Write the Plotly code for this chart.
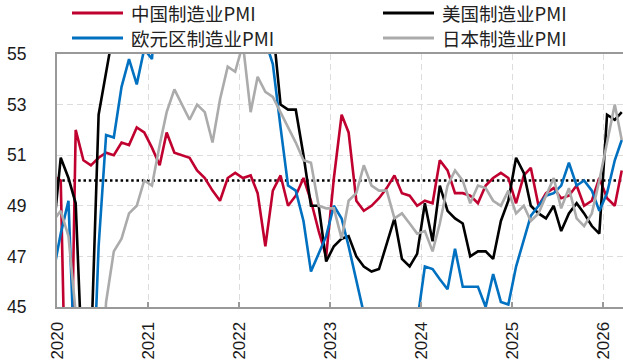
import pandas as pd
import plotly.graph_objects as go

# Monthly observations, Dec 2019 .. Mar 2026 (plotted mid-month)
months = pd.date_range("2019-12-01", "2026-03-01", freq="MS") + pd.Timedelta(days=15)

china = [50.2,
         50.0, 35.7, 52.0, 50.8, 50.6, 50.9, 51.1, 51.0, 51.5, 51.4, 52.1, 51.9,
         51.3, 50.6, 51.9, 51.1, 51.0, 50.9, 50.4, 50.1, 49.6, 49.2, 50.1, 50.3,
         50.1, 50.2, 49.5, 47.4, 49.6, 50.2, 49.0, 49.4, 50.1, 49.2, 48.0, 47.0,
         50.1, 52.6, 51.9, 49.2, 48.8, 49.0, 49.3, 49.7, 50.2, 49.5, 49.4, 49.0,
         49.2, 49.1, 50.8, 50.4, 49.5, 49.5, 49.4, 49.1, 49.8, 50.1, 50.3, 50.1,
         49.1, 50.2, 50.5, 49.0, 49.5, 49.7, 49.3, 49.4, 49.8, 49.0, 49.2, 50.1,
         49.3, 49.0, 50.4]

usa = [47.8,
       50.9, 50.1, 49.1, 41.5, 43.1, 52.6, 54.2, 56.0, 55.4, 59.3, 57.5, 60.7,
       58.7, 60.8, 64.7, 60.7, 61.2, 60.6, 59.5, 59.9, 61.1, 60.8, 61.1, 58.7,
       57.6, 58.6, 57.1, 55.4, 56.1, 53.0, 52.8, 52.8, 51.0, 49.0, 49.0, 46.8,
       47.4, 47.7, 47.8, 47.0, 46.6, 46.4, 46.5, 47.5, 48.5, 46.9, 46.6, 47.1,
       49.1, 47.6, 49.8, 48.8, 48.5, 48.3, 47.0, 47.2, 47.2, 46.9, 48.4, 49.2,
       50.9, 50.3, 49.0, 48.7, 48.5, 49.0, 48.0, 48.7, 49.1, 48.7, 48.2, 47.9,
       52.6, 52.4, 52.7]

euro = [46.3,
        47.9, 49.2, 44.5, 33.4, 39.4, 47.4, 51.8, 51.7, 53.7, 54.8, 53.8, 55.2,
        54.8, 57.9, 62.5, 62.9, 63.1, 63.4, 62.8, 61.4, 58.6, 58.3, 58.4, 58.0,
        58.7, 58.2, 56.5, 55.5, 54.6, 52.1, 49.8, 49.6, 48.4, 46.4, 47.1, 47.8,
        49.0, 48.5, 47.4, 46.1, 44.8, 43.4, 42.7, 43.5, 43.4, 43.1, 44.2, 44.4,
        46.6, 46.5, 46.1, 45.7, 47.3, 45.8, 45.8, 45.8, 45.0, 46.3, 45.2, 45.1,
        46.6, 47.6, 48.6, 49.0, 49.4, 49.5, 49.8, 50.7, 49.8, 50.0, 49.6, 48.8,
        49.5, 50.8, 51.6]

japan = [48.4,
         48.8, 47.8, 44.8, 41.9, 38.4, 40.1, 45.2, 47.2, 47.7, 48.7, 49.0, 50.0,
         49.8, 51.4, 52.7, 53.6, 53.0, 52.4, 53.0, 52.7, 51.5, 53.2, 54.5, 54.3,
         55.4, 52.7, 54.1, 53.5, 53.3, 52.7, 52.1, 51.5, 50.8, 50.7, 49.0, 48.9,
         48.9, 47.7, 49.2, 49.5, 50.6, 49.8, 49.6, 49.6, 48.5, 48.7, 48.3, 47.9,
         48.0, 47.2, 48.3, 49.8, 50.4, 50.0, 49.1, 49.8, 49.7, 49.2, 49.0, 49.6,
         48.7, 49.0, 48.4, 48.7, 49.4, 50.1, 48.9, 49.7, 48.5, 48.2, 48.7, 50.0,
         51.5, 53.0, 51.6]

series_names = ["中国制造业PMI", "美国制造业PMI", "欧元区制造业PMI", "日本制造业PMI"]
series_colors = ["#C0002F", "#000000", "#0070C0", "#ABABAB"]
series_values = [china, usa, euro, japan]

y_ticks = [45, 47, 49, 51, 53, 55]
threshold = 50

fig = go.Figure()
for name, col, vals in zip(series_names, series_colors, series_values):
    fig.add_trace(go.Scatter(x=months, y=vals, mode="lines", name=name,
                             line=dict(color=col, width=2.6), showlegend=False))

# 50 threshold dotted line
fig.add_shape(type="line", xref="paper", x0=0, x1=1, yref="y", y0=threshold, y1=threshold,
              line=dict(color="black", width=2.5, dash="2.5px,2.8px"), layer="below")

# manual legend (2 x 2)
W, H, L, T = 566, 253, 57, 54
def px_to_paper(xp, yp):
    return (xp - L) / W, (T + H - yp) / H

legend_pos = [(72, 13), (383, 13), (72, 38), (383, 38)]
for (xp, yp), name, col in zip(legend_pos, series_names, series_colors):
    x0, y0 = px_to_paper(xp, yp)
    x1, _ = px_to_paper(xp + 51, yp)
    fig.add_shape(type="line", xref="paper", yref="paper", x0=x0, x1=x1, y0=y0, y1=y0,
                  line=dict(color=col, width=3))
    xt, _ = px_to_paper(xp + 58, yp)
    fig.add_annotation(xref="paper", yref="paper", x=xt, y=y0, text=name, showarrow=False,
                       xanchor="left", yanchor="middle", borderpad=0,
                       font=dict(family="Noto Sans CJK SC", size=18.5, color="#222222"))

fig.update_layout(
    width=623, height=363,
    margin=dict(l=57, r=0, t=54, b=56, pad=0),
    paper_bgcolor="white", plot_bgcolor="white",
    showlegend=False,
    font=dict(family="Liberation Sans, Arial", size=17, color="#1a1a1a"),
)
fig.update_xaxes(
    type="date", range=["2020-01-01", "2026-03-21"],
    tick0="2020-01-01", dtick="M12", tickformat="%Y", tickangle=-90,
    showgrid=True, gridcolor="#DCDCDC", gridwidth=1, griddash="6px,4px",
    showline=True, linecolor="#999999", linewidth=2, mirror=True,
    ticks="inside", ticklen=5, tickcolor="#999999", tickwidth=1.5,
    ticklabelstandoff=6, automargin=False,
    tickfont=dict(family="Liberation Sans, Arial", size=17, color="#1a1a1a"),
)
fig.update_yaxes(
    range=[45, 55], tickvals=y_ticks,
    showgrid=True, gridcolor="#DCDCDC", gridwidth=1, griddash="6px,4px",
    showline=True, linecolor="#999999", linewidth=2,
    ticks="", zeroline=False,
    ticklabelstandoff=25, automargin=False,
    tickfont=dict(family="Liberation Sans, Arial", size=17.5, color="#1a1a1a"),
)

fig.write_html("out.html", config={"displayModeBar": False},
               post_script="document.body.style.margin='0';document.body.style.overflow='hidden';")
